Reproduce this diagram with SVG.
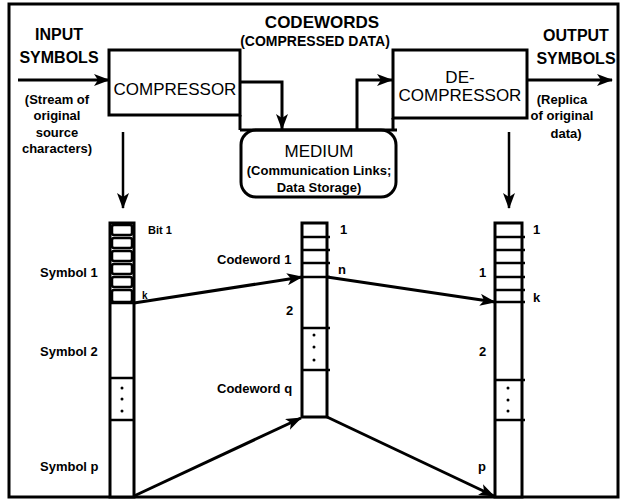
<svg xmlns="http://www.w3.org/2000/svg" width="622" height="500" viewBox="0 0 622 500">
<defs>
<style>
.t{font-family:"Liberation Sans",Arial,sans-serif;fill:#000}
.big{font-size:16px;font-weight:bold}
.box{font-size:17px}
.sm{font-size:13px;font-weight:bold}
.lb{font-size:13px;font-weight:bold}
.ln{stroke:#000;stroke-width:3;fill:none}
.col{stroke:#000;stroke-width:3;fill:#fff}
.cell{stroke:#000;stroke-width:2.5;fill:#fff}
.tick{stroke:#000;stroke-width:2.5}
</style>
<marker id="ah2" viewBox="0 0 16 12" refX="15" refY="6" markerWidth="16" markerHeight="12" markerUnits="userSpaceOnUse" orient="auto">
<path d="M0,0 L16,6 L0,12 L4,6 Z" fill="#000"/>
</marker>
</defs>
<rect x="0" y="0" width="622" height="500" fill="#fff"/>
<rect x="9" y="4" width="609" height="493" fill="none" stroke="#000" stroke-width="3"/>

<g id="input-label">
<text class="t big" x="59" y="40" text-anchor="middle">INPUT</text>
<text class="t big" x="59" y="63" text-anchor="middle">SYMBOLS</text>
<text class="t sm" x="57" y="104" text-anchor="middle">(Stream of</text>
<text class="t sm" x="57" y="120" text-anchor="middle">original</text>
<text class="t sm" x="57" y="137" text-anchor="middle">source</text>
<text class="t sm" x="57" y="153" text-anchor="middle">characters)</text>
</g>

<g id="codewords-label">
<text class="t big" x="322" y="28" text-anchor="middle" style="font-size:17px">CODEWORDS</text>
<text class="t" x="315" y="46" text-anchor="middle" style="font-size:14px;font-weight:bold">(COMPRESSED DATA)</text>
</g>

<g id="output-label">
<text class="t big" x="576" y="41" text-anchor="middle">OUTPUT</text>
<text class="t big" x="576" y="64" text-anchor="middle">SYMBOLS</text>
<text class="t sm" x="562" y="104" text-anchor="middle">(Replica</text>
<text class="t sm" x="562" y="120" text-anchor="middle">of original</text>
<text class="t sm" x="566" y="138" text-anchor="middle">data)</text>
</g>

<g id="compressor">
<rect x="109" y="50" width="131" height="65" fill="#fff" stroke="#000" stroke-width="3"/>
<text class="t box" x="175" y="95" text-anchor="middle">COMPRESSOR</text>
</g>

<g id="decompressor">
<rect x="393" y="50" width="134" height="68" fill="#fff" stroke="#000" stroke-width="3"/>
<text class="t box" x="460" y="83" text-anchor="middle">DE-</text>
<text class="t box" x="460" y="101" text-anchor="middle">COMPRESSOR</text>
</g>

<g id="medium">
<rect x="241" y="130" width="155" height="67" rx="15" fill="#fff" stroke="#000" stroke-width="3"/>
<text class="t box" x="319" y="157" text-anchor="middle">MEDIUM</text>
<text class="t sm" x="319" y="175" text-anchor="middle">(Communication Links;</text>
<text class="t sm" x="319" y="192" text-anchor="middle">Data Storage)</text>
</g>

<g id="input-stream">
<rect x="110" y="223" width="24" height="274" class="col"/>
<rect x="112" y="225" width="20" height="10" rx="2" class="cell"/>
<rect x="112" y="238" width="20" height="10" rx="2" class="cell"/>
<rect x="112" y="251" width="20" height="10" rx="2" class="cell"/>
<rect x="112" y="264" width="20" height="10" rx="2" class="cell"/>
<rect x="112" y="277" width="20" height="10" rx="2" class="cell"/>
<rect x="112" y="290" width="20" height="12" rx="2" class="cell"/>
<line x1="110" y1="303" x2="134" y2="303" class="tick"/>
<line x1="110" y1="378" x2="134" y2="378" class="tick"/>
<line x1="110" y1="420" x2="134" y2="420" class="tick"/>
<circle cx="122" cy="388" r="1.5"/>
<circle cx="122" cy="399" r="1.5"/>
<circle cx="122" cy="411" r="1.5"/>
<text class="t lb" x="148" y="234" style="font-size:11px">Bit 1</text>
<text class="t lb" x="40" y="277">Symbol 1</text>
<text class="t lb" x="142" y="299" style="font-size:10px">k</text>
<text class="t lb" x="40" y="356">Symbol 2</text>
<text class="t lb" x="40" y="471">Symbol p</text>
</g>

<g id="codeword-stream">
<rect x="302" y="223" width="25" height="194" class="col"/>
<line x1="302" y1="237" x2="330" y2="237" class="tick"/>
<line x1="302" y1="250" x2="330" y2="250" class="tick"/>
<line x1="302" y1="263" x2="330" y2="263" class="tick"/>
<line x1="302" y1="277" x2="330" y2="277" class="tick"/>
<line x1="302" y1="328" x2="330" y2="328" class="tick"/>
<line x1="302" y1="370" x2="330" y2="370" class="tick"/>
<circle cx="314" cy="335" r="1.5"/>
<circle cx="314" cy="347" r="1.5"/>
<circle cx="314" cy="360" r="1.5"/>
<text class="t lb" x="340" y="234">1</text>
<text class="t lb" x="338" y="274">n</text>
<text class="t lb" x="217" y="264">Codeword 1</text>
<text class="t lb" x="286" y="315">2</text>
<text class="t lb" x="217" y="393">Codeword q</text>
</g>

<g id="output-stream">
<rect x="495" y="223" width="27" height="274" class="col"/>
<line x1="495" y1="237" x2="525" y2="237" class="tick"/>
<line x1="495" y1="250" x2="525" y2="250" class="tick"/>
<line x1="495" y1="263" x2="525" y2="263" class="tick"/>
<line x1="495" y1="277" x2="525" y2="277" class="tick"/>
<line x1="495" y1="290" x2="525" y2="290" class="tick"/>
<line x1="495" y1="302" x2="525" y2="302" class="tick"/>
<line x1="495" y1="380" x2="525" y2="380" class="tick"/>
<line x1="495" y1="420" x2="525" y2="420" class="tick"/>
<circle cx="508" cy="388" r="1.5"/>
<circle cx="508" cy="400" r="1.5"/>
<circle cx="508" cy="411" r="1.5"/>
<text class="t lb" x="533" y="234">1</text>
<text class="t lb" x="479" y="277">1</text>
<text class="t lb" x="533" y="302">k</text>
<text class="t lb" x="479" y="356">2</text>
<text class="t lb" x="478" y="471">p</text>
</g>

<g id="connectors">
<line x1="18" y1="80" x2="109" y2="80" class="ln" marker-end="url(#ah2)"/>
<path d="M240,82 H282 V129" class="ln" marker-end="url(#ah2)"/>
<line x1="240" y1="115" x2="240" y2="130" class="ln"/>
<line x1="393" y1="118" x2="393" y2="130" class="ln"/>
<line x1="240" y1="130" x2="397" y2="130" class="ln"/>
<path d="M357,130 V80 H392" class="ln" marker-end="url(#ah2)"/>
<line x1="527" y1="80" x2="612" y2="80" class="ln" marker-end="url(#ah2)"/>
<line x1="123" y1="132" x2="123" y2="208" stroke="#000" stroke-width="2.5" marker-end="url(#ah2)"/>
<line x1="509" y1="132" x2="509" y2="208" stroke="#000" stroke-width="2.5" marker-end="url(#ah2)"/>
<line x1="134" y1="303" x2="302" y2="277" class="ln" marker-end="url(#ah2)"/>
<line x1="327" y1="277" x2="495" y2="302" class="ln" marker-end="url(#ah2)"/>
<line x1="134" y1="496" x2="301" y2="418" class="ln" marker-end="url(#ah2)"/>
<line x1="327" y1="417" x2="494" y2="496" class="ln" marker-end="url(#ah2)"/>
</g>
</svg>
